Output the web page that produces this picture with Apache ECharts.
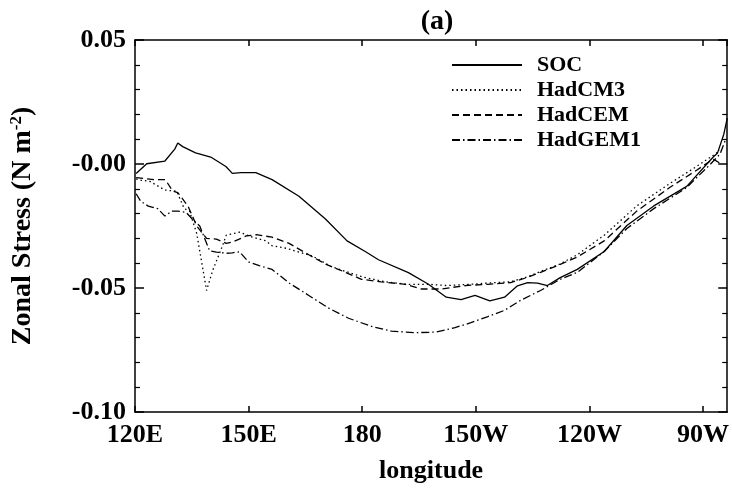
<!DOCTYPE html>
<html>
<head>
<meta charset="utf-8">
<script src="https://cdn.jsdelivr.net/npm/echarts@6/dist/echarts.min.js"></script>
<style>html,body{margin:0;padding:0;background:#fff}#c{width:732px;height:489px}</style>
</head>
<body>
<div id="c"></div>
<script>
// ---- data (longitude in degrees east, zonal stress in N m^-2) ----
const seriesNames = ['SOC', 'HadCM3', 'HadCEM', 'HadGEM1'];
const xTickValues = [120, 150, 180, 210, 240, 270];
const xTickLabels = ['120E', '150E', '180', '150W', '120W', '90W'];
const yTickValues = [-0.10, -0.05, 0.00, 0.05];
const yTickLabels = ['-0.10', '-0.05', '-0.00', '0.05'];

const socData = [[120.3,-0.0038],[123.1,0.0001],[127.9,0.0012],[130.5,0.006],[131.3,0.0085],[132.6,0.007],[136,0.0045],[140,0.0028],[144,-0.001],[145.7,-0.0038],[148,-0.0035],[151.9,-0.0035],[156.2,-0.0063],[163.3,-0.013],[170.3,-0.0222],[176,-0.031],[180.8,-0.0353],[184.3,-0.0386],[192.2,-0.0438],[197.4,-0.0484],[202.2,-0.0537],[206.1,-0.0547],[209.8,-0.053],[213.7,-0.0552],[217.6,-0.0537],[221,-0.0491],[223.7,-0.0478],[226.3,-0.048],[228.9,-0.049],[232.3,-0.0458],[236.8,-0.0425],[243.9,-0.0353],[249.9,-0.0248],[257,-0.0169],[265.7,-0.009],[272.7,0.0028],[273.8,0.0043],[275.5,0.012],[276.4,0.0185]];

const hadcm3Data = [[120.3,-0.006],[121.5,-0.0065],[123.9,-0.007],[127.9,-0.0105],[131,-0.011],[133,-0.018],[134.4,-0.019],[136.3,-0.028],[138.9,-0.051],[140.5,-0.043],[143.1,-0.033],[144.1,-0.0287],[147.6,-0.0275],[151,-0.0295],[154.6,-0.031],[156.2,-0.033],[160,-0.034],[163.3,-0.0355],[166.7,-0.037],[172,-0.0415],[176.4,-0.0437],[180,-0.0455],[186,-0.0475],[192,-0.0485],[197.4,-0.0485],[202.2,-0.049],[208.7,-0.0485],[213.2,-0.048],[219.2,-0.0475],[223.7,-0.0455],[227.1,-0.0433],[232,-0.0405],[236.8,-0.0366],[243.9,-0.0287],[252.5,-0.0169],[261.2,-0.0079],[268.3,-0.001],[272.7,0.0035],[274.5,0.0055]];

const hadcemData = [[120.3,-0.0055],[125,-0.0063],[128,-0.0063],[130,-0.011],[131.3,-0.0115],[134,-0.017],[136.3,-0.025],[138.9,-0.03],[141.5,-0.0303],[144.1,-0.032],[145.7,-0.0315],[149.4,-0.029],[152,-0.0285],[156.2,-0.0295],[160.7,-0.032],[165.9,-0.0366],[170.5,-0.0405],[175.6,-0.0437],[179.8,-0.0465],[185,-0.0475],[191.4,-0.0485],[195.6,-0.0504],[200.8,-0.0504],[207.4,-0.049],[213.2,-0.0485],[219.2,-0.0478],[223.7,-0.0457],[227.1,-0.0437],[232.3,-0.0405],[236.8,-0.0375],[243.9,-0.031],[252.5,-0.019],[261.2,-0.0095],[268.3,-0.0025],[272.7,0.002],[274.8,0.0]];

const hadgem1Data = [[120.3,-0.012],[121.5,-0.015],[123.5,-0.017],[126,-0.018],[127.9,-0.021],[129.7,-0.019],[131.3,-0.019],[133.5,-0.0195],[135,-0.022],[137.1,-0.025],[139.7,-0.035],[141.5,-0.0355],[144.1,-0.036],[145.7,-0.0358],[147.6,-0.0354],[150,-0.0395],[152.8,-0.041],[156.2,-0.0425],[160.7,-0.048],[165.9,-0.053],[171,-0.058],[176.4,-0.0622],[182.5,-0.0655],[187.7,-0.0674],[194,-0.068],[199.3,-0.0678],[204.5,-0.066],[208.7,-0.064],[213.2,-0.0615],[217.6,-0.059],[221.8,-0.055],[227.1,-0.051],[232.3,-0.0465],[236.8,-0.0437],[243.9,-0.0353],[249.9,-0.026],[257,-0.018],[265.7,-0.0095],[272,0.0],[274.5,0.004],[276,0.01]];

const allData = [socData, hadcm3Data, hadcemData, hadgem1Data];
const lineTypes = ['solid', [1.5, 3], [7, 4], [8, 3, 1.5, 3]];

// ---- chart ----
const FONT = "'Liberation Serif', 'DejaVu Serif', serif";
const chart = echarts.init(document.getElementById('c'), null, {renderer: 'canvas'});

function xLabel(v) {
  const i = xTickValues.findIndex(t => Math.abs(t - v) < 1e-6);
  return i >= 0 ? xTickLabels[i] : '';
}
function yLabel(v) {
  const i = yTickValues.findIndex(t => Math.abs(t - v) < 1e-9);
  return i >= 0 ? yTickLabels[i] : '';
}

const axisCommon = {
  axisLine: {show: true, onZero: false, lineStyle: {color: '#000', width: 1.5}},
  splitLine: {show: false}
};

const option = {
  animation: false,
  backgroundColor: '#fff',
  title: {
    text: '(a)', left: 432, top: 3, textAlign: 'center',
    textStyle: {fontFamily: FONT, fontWeight: 'bold', fontSize: 28, color: '#000'}
  },
  legend: {
    show: true, orient: 'vertical', left: 446, top: 49, itemWidth: 70, itemHeight: 14, itemGap: 3,
    data: seriesNames,
    itemStyle: {opacity: 0},
    textStyle: {fontFamily: FONT, fontWeight: 'bold', fontSize: 22, color: '#000', padding: [0, 0, 0, 10]}
  },
  grid: {left: 135, top: 40, right: 1, bottom: 68, containLabel: false},
  xAxis: [{
    ...axisCommon, type: 'value', min: 120, max: 276.4, interval: 30,
    name: 'longitude', nameLocation: 'middle', nameGap: 46,
    nameTextStyle: {fontFamily: FONT, fontWeight: 'bold', fontSize: 26, color: '#000'},
    axisTick: {show: true, inside: true, length: 6, lineStyle: {color: '#000', width: 1.5}},
    axisLabel: {margin: 10, formatter: xLabel, fontFamily: FONT, fontWeight: 'bold', fontSize: 26, color: '#000', showMaxLabel: false}
  }, {
    ...axisCommon, type: 'value', position: 'top', min: 120, max: 276.4, interval: 30,
    axisTick: {show: true, inside: true, length: 6, lineStyle: {color: '#000', width: 1.5}},
    axisLabel: {show: false}
  }],
  yAxis: [{
    ...axisCommon, type: 'value', min: -0.1, max: 0.05, interval: 0.05,
    name: 'Zonal Stress (N m{sup|-2})', nameLocation: 'middle', nameGap: 98, nameRotate: 90,
    nameTextStyle: {fontFamily: FONT, fontWeight: 'bold', fontSize: 28, color: '#000',
      rich: {sup: {fontFamily: FONT, fontWeight: 'bold', fontSize: 17, color: '#000', verticalAlign: 'bottom', padding: [0, 0, 12, 0]}}},
    axisTick: {show: true, inside: true, length: 9, lineStyle: {color: '#000', width: 1.5}},
    minorTick: {show: true, splitNumber: 5, length: 5, lineStyle: {color: '#000', width: 1.2}},
    axisLabel: {margin: 9, formatter: yLabel, fontFamily: FONT, fontWeight: 'bold', fontSize: 26, color: '#000'}
  }, {
    ...axisCommon, type: 'value', position: 'right', min: -0.1, max: 0.05, interval: 0.05,
    axisTick: {show: true, inside: true, length: 9, lineStyle: {color: '#000', width: 1.5}},
    minorTick: {show: true, splitNumber: 5, length: 5, lineStyle: {color: '#000', width: 1.2}},
    axisLabel: {show: false}
  }],
  series: seriesNames.map((name, i) => ({
    name: name, type: 'line', data: allData[i], xAxisIndex: 0, yAxisIndex: 0,
    showSymbol: false, symbol: 'none', smooth: false,
    lineStyle: {color: '#000', width: 1.3, type: lineTypes[i]},
    itemStyle: {color: '#000'}
  }))
};
chart.setOption(option);
</script>
</body>
</html>
